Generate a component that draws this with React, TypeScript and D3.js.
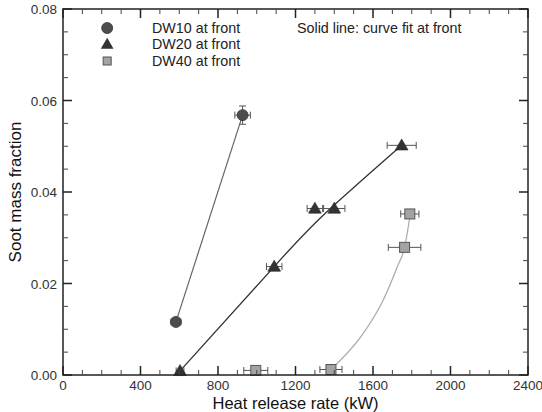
import React from 'react'
import * as d3 from 'd3'

const W = 542
const H = 412
const MARGIN = { top: 9, right: 14, bottom: 37, left: 63 }

// measured points (heat release rate kW, soot mass fraction), with error half-widths
const dw10X = [583, 927]
const dw10Y = [0.0116, 0.0568]
const dw10Ex = [25, 40]
const dw10Ey = [0, 0.002]

const dw20X = [604, 1090, 1300, 1400, 1748]
const dw20Y = [0.0009, 0.0237, 0.0364, 0.0364, 0.0502]
const dw20Ex = [20, 40, 40, 55, 75]
const dw20Ey = [0, 0, 0, 0, 0]

const dw40X = [995, 1383, 1763, 1790]
const dw40Y = [0.001, 0.0012, 0.0279, 0.0352]
const dw40Ex = [62, 57, 84, 47]
const dw40Ey = [0, 0, 0, 0.0008]

// curve fits
const fit20X = [604, 1090, 1350, 1748]
const fit20Y = [0.0009, 0.0237, 0.0352, 0.0502]
const fit40X = [1383, 1550, 1653, 1726, 1763, 1790]
const fit40Y = [0.0012, 0.0091, 0.0164, 0.0237, 0.0279, 0.0345]

const X_TICKS = [0, 400, 800, 1200, 1600, 2000, 2400]
const Y_TICKS = [0, 0.02, 0.04, 0.06, 0.08]
const LEGEND = ['DW10 at front', 'DW20 at front', 'DW40 at front']
const NOTE = 'Solid line: curve fit at front'

const FONT = '"Liberation Sans", Arial, sans-serif'

type Pt = { x: number; y: number; ex: number; ey: number }
const zip = (xs: number[], ys: number[], exs: number[], eys: number[]): Pt[] =>
  xs.map((x, i) => ({ x, y: ys[i], ex: exs[i], ey: eys[i] }))

export default function App() {
  const iW = W - MARGIN.left - MARGIN.right
  const iH = H - MARGIN.top - MARGIN.bottom
  const x = d3.scaleLinear().domain([0, 2400]).range([0, iW])
  const y = d3.scaleLinear().domain([0, 0.08]).range([iH, 0])

  const line = d3.line<[number, number]>()
    .x(d => x(d[0]))
    .y(d => y(d[1]))
  const curve = d3.line<[number, number]>()
    .x(d => x(d[0]))
    .y(d => y(d[1]))
    .curve(d3.curveNatural)
  const curve40 = d3.line<[number, number]>()
    .x(d => x(d[0]))
    .y(d => y(d[1]))
    .curve(d3.curveMonotoneX)

  const p10 = zip(dw10X, dw10Y, dw10Ex, dw10Ey)
  const p20 = zip(dw20X, dw20Y, dw20Ex, dw20Ey)
  const p40 = zip(dw40X, dw40Y, dw40Ex, dw40Ey)

  const xMinor = d3.range(0, 2401, 100).filter(v => v % 400 !== 0)
  const yMinor = d3.range(0, 17).map(i => i * 0.005).filter((_, i) => i % 4 !== 0)

  const tri = d3.symbol().type(d3.symbolTriangle).size(70)()

  const errBars = (pts: Pt[], key: string) =>
    pts.map((d, i) => {
      const cx = x(d.x), cy = y(d.y)
      const x0 = x(d.x - d.ex), x1 = x(d.x + d.ex)
      const y0 = y(d.y - d.ey), y1 = y(d.y + d.ey)
      return (
        <g key={key + i} stroke="#555" strokeWidth={1} fill="none">
          {d.ex > 0 && <>
            <line x1={x0} x2={x1} y1={cy} y2={cy} />
            <line x1={x0} x2={x0} y1={cy - 3.5} y2={cy + 3.5} />
            <line x1={x1} x2={x1} y1={cy - 3.5} y2={cy + 3.5} />
          </>}
          {d.ey > 0 && <>
            <line x1={cx} x2={cx} y1={y0} y2={y1} />
            <line x1={cx - 3.5} x2={cx + 3.5} y1={y0} y2={y0} />
            <line x1={cx - 3.5} x2={cx + 3.5} y1={y1} y2={y1} />
          </>}
        </g>
      )
    })

  return (
    <div style={{ position: 'absolute', left: 0, top: 0 }}>
      <svg width={W} height={H} style={{ display: 'block', background: '#fff' }} fontFamily={FONT}>
        <g transform={`translate(${MARGIN.left},${MARGIN.top})`}>
          {/* fit lines */}
          <path d={line(dw10X.map((v, i) => [v, dw10Y[i]]) as [number, number][]) || ''} fill="none" stroke="#666" strokeWidth={1.2} />
          <path d={curve(fit20X.map((v, i) => [v, fit20Y[i]]) as [number, number][]) || ''} fill="none" stroke="#333" strokeWidth={1.3} />
          <path d={curve40(fit40X.map((v, i) => [v, fit40Y[i]]) as [number, number][]) || ''} fill="none" stroke="#aaa" strokeWidth={1.2} />

          {/* error bars */}
          {errBars(p10, 'a')}
          {errBars(p20, 'b')}
          {errBars(p40, 'c')}

          {/* markers */}
          {p10.map((d, i) => (
            <circle key={'c' + i} cx={x(d.x)} cy={y(d.y)} r={5.5} fill="#4d4d4d" stroke="#333" strokeWidth={0.8} />
          ))}
          {p20.map((d, i) => (
            <path key={'t' + i} d={tri || ''} transform={`translate(${x(d.x)},${y(d.y) + 1})`} fill="#333" stroke="#222" strokeWidth={0.6} />
          ))}
          {p40.map((d, i) => (
            <rect key={'s' + i} x={x(d.x) - 5} y={y(d.y) - 5} width={10} height={10} fill="#a3a3a3" stroke="#555" strokeWidth={1} />
          ))}

          {/* frame */}
          <rect x={0} y={0} width={iW} height={iH} fill="none" stroke="#222" strokeWidth={1.5} />

          {/* ticks, inward on all sides */}
          <g stroke="#222" strokeWidth={1.5}>
            {X_TICKS.map(v => (
              <g key={'xt' + v}>
                <line x1={x(v)} x2={x(v)} y1={iH} y2={iH - 9} />
                <line x1={x(v)} x2={x(v)} y1={0} y2={9} />
              </g>
            ))}
            {Y_TICKS.map(v => (
              <g key={'yt' + v}>
                <line x1={0} x2={9} y1={y(v)} y2={y(v)} />
                <line x1={iW} x2={iW - 9} y1={y(v)} y2={y(v)} />
              </g>
            ))}
          </g>
          <g stroke="#444" strokeWidth={1}>
            {xMinor.map(v => (
              <g key={'xm' + v}>
                <line x1={x(v)} x2={x(v)} y1={iH} y2={iH - 5} />
                <line x1={x(v)} x2={x(v)} y1={0} y2={5} />
              </g>
            ))}
            {yMinor.map(v => (
              <g key={'ym' + v}>
                <line x1={0} x2={5} y1={y(v)} y2={y(v)} />
                <line x1={iW} x2={iW - 5} y1={y(v)} y2={y(v)} />
              </g>
            ))}
          </g>

          {/* tick labels */}
          {X_TICKS.map(v => (
            <text key={'xl' + v} x={x(v)} y={iH + 14.5} textAnchor="middle" fontSize={13.5} fill="#333">{v}</text>
          ))}
          {Y_TICKS.map(v => (
            <text key={'yl' + v} x={-6} y={y(v) + 5} textAnchor="end" fontSize={13.5} fill="#333">{v.toFixed(2)}</text>
          ))}

          {/* legend */}
          <circle cx={x(228)} cy={28 - MARGIN.top} r={5.5} fill="#4d4d4d" stroke="#333" strokeWidth={0.8} />
          <path d={tri || ''} transform={`translate(${x(228)},${44 - MARGIN.top + 1})`} fill="#333" />
          <rect x={x(228) - 4} y={61 - MARGIN.top - 4} width={8} height={8} fill="#a3a3a3" stroke="#555" strokeWidth={1} />
          {LEGEND.map((t, i) => (
            <text key={t} x={152 - MARGIN.left} y={[28, 44, 61][i] - MARGIN.top + 5} fontSize={14.3} fill="#222">{t}</text>
          ))}
          <text x={297 - MARGIN.left} y={28 - MARGIN.top + 5} fontSize={14.3} fill="#222">{NOTE}</text>
        </g>

        {/* axis titles */}
        <text x={MARGIN.left + iW / 2} y={H - 3.5} textAnchor="middle" fontSize={16.5} fill="#111">Heat release rate (kW)</text>
        <text transform={`translate(21,${MARGIN.top + iH / 2}) rotate(-90)`} textAnchor="middle" fontSize={17} fill="#111">Soot mass fraction</text>
      </svg>
    </div>
  )
}
